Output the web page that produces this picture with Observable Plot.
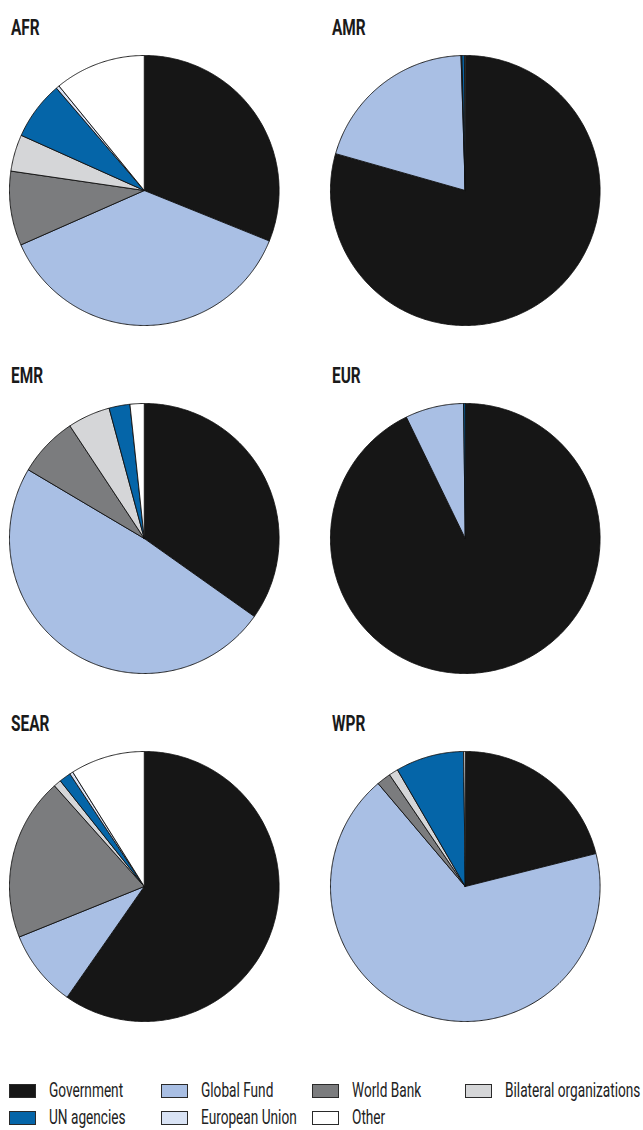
<!DOCTYPE html>
<html>
<head>
<meta charset="utf-8">
<script src="https://cdn.jsdelivr.net/npm/d3@7"></script>
<script src="https://cdn.jsdelivr.net/npm/@observablehq/plot@0.6"></script>
<style>
  html, body { margin: 0; padding: 0; background: #fff; }
  body { width: 643px; height: 1130px; overflow: hidden; font-family: "Roboto", "Liberation Sans", sans-serif; }
  #legend { display: grid; grid-template-columns: 152px 151px 153px auto; grid-auto-rows: 27px; margin: 40px 0 0 9px; }
  .item { display: flex; align-items: center; height: 14px; white-space: nowrap; }
  .sw { width: 25px; height: 12px; border: 1px solid #2a2a2a; margin-right: 12.5px; flex: none; }
  .lt { display: inline-block; font-size: 19.5px; color: #222; transform: scaleX(0.7); transform-origin: 0 50%; line-height: 14px; }
</style>
</head>
<body>
<div id="chart"></div>
<div id="legend"></div>
<script>
const regions = ["AFR", "AMR", "EMR", "EUR", "SEAR", "WPR"];
const sources = ["Government", "Global Fund", "World Bank", "Bilateral organizations", "UN agencies", "European Union", "Other"];
const colors = ["#161616", "#a9bfe4", "#7b7c7e", "#d5d6d8", "#0565a8", "#d9e3f5", "#ffffff"];
// share of funding (%) by source, in the order of `sources`
const afr  = [31.1, 37.3, 8.9, 4.4, 7.0, 0.4, 10.9];
const amr  = [79.4, 20.1, 0.1, 0.0, 0.3, 0.0, 0.1];
const emr  = [34.8, 48.7, 7.2, 5.1, 2.5, 0.0, 1.7];
const eur  = [92.8, 7.0, 0.0, 0.0, 0.2, 0.0, 0.0];
const sear = [59.7, 9.2, 19.5, 0.9, 1.4, 0.4, 8.9];
const wpr  = [21.1, 67.8, 1.7, 1.1, 8.2, 0.0, 0.2];
const values = [afr, amr, emr, eur, sear, wpr];

// build slice polygons from d3.pie angles (clockwise from 12 o'clock)
const pts = [];
regions.forEach((reg, i) => {
  const col = i % 2, row = Math.floor(i / 2);
  const rows = sources.map((s, j) => ({source: s, value: values[i][j]})).filter(d => d.value > 0);
  const arcs = d3.pie().sort(null).value(d => d.value)(rows);
  arcs.forEach(a => {
    const key = reg + "|" + a.data.source;
    const n = Math.max(2, Math.ceil((a.endAngle - a.startAngle) / (Math.PI / 360)) + 1);
    pts.push({key, source: a.data.source, col, row, x: 0, y: 0});
    for (let k = 0; k < n; k++) {
      const t = a.startAngle + (a.endAngle - a.startAngle) * k / (n - 1);
      pts.push({key, source: a.data.source, col, row, x: Math.sin(t), y: Math.cos(t)});
    }
    pts.push({key, source: a.data.source, col, row, x: 0, y: 0});
  });
});
const titles = regions.map((r, i) => ({name: r, col: i % 2, row: Math.floor(i / 2)}));

const W = 643, H = 1044, R = 135;
const fw = W / 2, fh = H / 3;
const cx = 143, cy = 190;

const chart = Plot.plot({
  width: W,
  height: H,
  margin: 0,
  style: {fontFamily: '"Roboto", "Liberation Sans", sans-serif', background: "#fff"},
  fx: {domain: [0, 1], padding: 0, axis: null},
  fy: {domain: [0, 1, 2], padding: 0, axis: null},
  x: {domain: [-cx / R, (fw - cx) / R], axis: null},
  y: {domain: [-(fh - cy) / R, cy / R], axis: null},
  color: {domain: sources, range: colors},
  marks: [
    Plot.line(pts, {x: "x", y: "y", z: "key", fx: "col", fy: "row", fill: "source", stroke: "#111", strokeWidth: 0.9, strokeLinejoin: "round", curve: "linear"}),
    Plot.text(titles, {fx: "col", fy: "row", text: "name", frameAnchor: "top-left", dx: 9.5, dy: 19, fontSize: 22, fontWeight: "bold", fill: "#1a1a1a", className: "ptitle"})
  ]
});
document.getElementById("chart").appendChild(chart);
// condensed look for titles
chart.querySelectorAll(".ptitle text").forEach(t => {
  const len = t.getComputedTextLength();
  t.setAttribute("textLength", (len * 0.7).toFixed(1));
  t.setAttribute("lengthAdjust", "spacingAndGlyphs");
});

const legend = document.getElementById("legend");
sources.forEach((s, j) => {
  const it = document.createElement("div");
  it.className = "item";
  const sw = document.createElement("span");
  sw.className = "sw";
  sw.style.background = colors[j];
  it.appendChild(sw);
  const tx = document.createElement("span");
  tx.className = "lt";
  tx.textContent = s;
  it.appendChild(tx);
  legend.appendChild(it);
});
</script>
</body>
</html>
